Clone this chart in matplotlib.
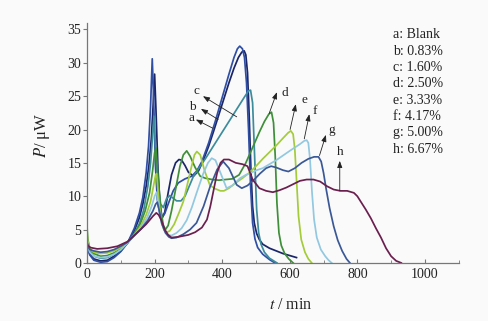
import matplotlib
matplotlib.use("Agg")
import matplotlib.pyplot as plt
from matplotlib.ticker import MultipleLocator

plt.rcParams['font.family'] = ['Liberation Serif', 'DejaVu Serif']
plt.rcParams['mathtext.fontset'] = 'stix'

# ---- data ----
t_a = [0, 2, 8, 20, 40, 60, 80, 100, 120, 140, 155, 165, 175, 183, 190, 196, 200, 204, 210, 216, 222, 230, 240, 250, 262, 272, 280, 290, 300, 315, 330, 345, 360, 375, 390, 405, 420, 435, 448, 458, 465, 470, 475, 480, 485, 490, 495, 502, 510, 520, 540, 560, 580, 600, 620]
p_a = [3.0, 2.2, 1.3, 0.6, 0.3, 0.4, 1.0, 1.8, 3.0, 4.8, 6.8, 8.8, 11.5, 14.5, 18.5, 24.0, 28.3, 23.0, 14.0, 8.8, 6.7, 7.6, 10.5, 13.2, 15.0, 15.5, 15.4, 14.6, 13.6, 13.0, 13.8, 15.5, 17.5, 19.8, 22.2, 24.6, 27.0, 29.2, 30.8, 31.6, 31.8, 31.2, 28.5, 22.0, 14.0, 8.5, 6.0, 4.4, 3.5, 2.8, 2.2, 1.8, 1.4, 1.1, 0.8]

t_b = [0, 2, 8, 20, 40, 60, 80, 100, 120, 140, 155, 165, 175, 182, 188, 193, 197, 202, 208, 215, 222, 230, 240, 255, 270, 290, 310, 325, 340, 360, 380, 400, 420, 435, 445, 452, 460, 466, 472, 478, 484, 490, 497, 505, 520, 540, 556]
p_b = [3.4, 2.4, 1.2, 0.4, 0.1, 0.2, 0.8, 1.7, 3.0, 5.2, 7.5, 9.8, 13.5, 17.5, 23.5, 30.6, 25.0, 15.0, 9.5, 7.5, 6.8, 7.4, 8.8, 10.8, 12.0, 12.6, 13.0, 13.8, 15.2, 18.0, 21.3, 24.8, 28.3, 30.8, 32.1, 32.5, 32.1, 30.8, 27.0, 20.0, 11.5, 6.0, 3.6, 2.3, 1.3, 0.5, 0.0]

t_c = [0, 2, 8, 20, 40, 60, 80, 100, 120, 140, 155, 168, 180, 188, 194, 198, 203, 210, 218, 226, 235, 245, 255, 265, 278, 290, 300, 315, 334, 350, 370, 395, 420, 445, 465, 478, 484, 490, 496, 502, 508, 515, 525, 540, 562]
p_c = [4.2, 3.0, 1.8, 1.0, 0.7, 0.8, 1.3, 2.0, 3.0, 4.4, 5.9, 8.0, 11.5, 15.0, 19.0, 22.0, 17.0, 11.5, 8.8, 8.3, 9.6, 10.1, 9.7, 9.3, 9.3, 10.0, 11.2, 13.0, 14.4, 15.6, 17.2, 19.2, 21.2, 23.2, 24.8, 25.8, 25.9, 24.0, 16.0, 8.0, 4.5, 2.8, 1.6, 0.7, 0.0]

t_d = [0, 2, 8, 20, 40, 60, 80, 100, 120, 140, 158, 172, 185, 194, 200, 204, 210, 218, 226, 232, 240, 250, 262, 275, 285, 295, 305, 320, 335, 350, 370, 390, 410, 430, 450, 470, 490, 510, 525, 538, 546, 552, 557, 562, 568, 575, 585, 597, 610]
p_d = [5.5, 3.6, 2.2, 1.4, 1.0, 1.1, 1.5, 2.1, 3.0, 4.3, 5.9, 7.8, 10.5, 13.8, 16.5, 17.3, 13.0, 8.0, 5.6, 5.0, 5.6, 7.8, 11.0, 14.5, 16.2, 16.8, 16.0, 14.3, 13.0, 12.7, 12.5, 12.4, 12.5, 12.6, 13.2, 15.0, 17.3, 19.6, 21.2, 22.3, 22.6, 21.0, 16.0, 9.0, 4.5, 2.6, 1.4, 0.6, 0.0]

t_e = [0, 2, 8, 20, 40, 60, 80, 100, 120, 140, 160, 175, 188, 197, 203, 206, 212, 220, 228, 236, 245, 258, 272, 285, 297, 309, 318, 325, 335, 348, 364, 380, 395, 405, 420, 440, 460, 480, 500, 520, 540, 560, 580, 595, 603, 610, 615, 620, 626, 634, 645, 655, 665]
p_e = [4.8, 3.3, 2.1, 1.6, 1.4, 1.5, 1.8, 2.3, 3.0, 4.2, 5.6, 7.2, 9.2, 11.6, 13.2, 13.4, 9.5, 6.2, 4.9, 4.6, 4.8, 5.8, 7.5, 9.2, 11.8, 14.4, 16.2, 16.7, 16.2, 13.8, 11.6, 11.1, 10.8, 10.8, 11.2, 12.0, 12.7, 13.5, 14.5, 15.6, 16.6, 17.6, 18.7, 19.5, 19.8, 19.3, 17.0, 12.5, 7.0, 3.5, 1.6, 0.6, 0.0]

t_f = [0, 2, 8, 20, 40, 60, 80, 100, 120, 140, 160, 178, 192, 200, 206, 212, 220, 230, 240, 250, 265, 280, 295, 310, 325, 344, 358, 369, 380, 395, 413, 430, 453, 470, 485, 502, 520, 540, 560, 580, 600, 615, 630, 643, 650, 655, 660, 666, 672, 680, 692, 705, 715, 724]
p_f = [3.8, 2.6, 1.6, 1.0, 0.8, 0.9, 1.3, 2.0, 3.0, 4.1, 5.3, 6.8, 8.6, 10.0, 10.6, 8.5, 6.0, 4.8, 4.2, 4.1, 4.5, 5.2, 6.4, 8.3, 10.6, 13.4, 15.0, 15.7, 15.4, 13.5, 11.2, 11.6, 12.7, 13.2, 13.5, 13.9, 14.2, 14.8, 15.4, 16.1, 16.8, 17.3, 17.8, 18.3, 18.4, 18.0, 15.5, 10.5, 6.5, 3.8, 2.0, 1.0, 0.4, 0.0]

t_g = [0, 2, 8, 20, 40, 60, 80, 100, 120, 140, 160, 180, 195, 203, 208, 214, 222, 232, 242, 250, 265, 285, 305, 324, 345, 364, 385, 403, 420, 443, 458, 475, 495, 512, 530, 545, 560, 580, 596, 615, 635, 655, 672, 685, 693, 700, 708, 718, 730, 742, 755, 768, 778]
p_g = [3.2, 2.5, 2.0, 1.8, 1.6, 1.7, 2.0, 2.5, 3.1, 4.1, 5.1, 6.4, 7.8, 8.8, 9.1, 7.8, 5.8, 4.5, 3.9, 3.7, 3.8, 4.3, 5.0, 6.0, 8.5, 11.4, 14.0, 15.2, 14.2, 11.7, 11.2, 11.6, 12.5, 13.4, 14.2, 14.5, 14.3, 13.9, 13.7, 14.2, 15.0, 15.6, 15.9, 15.9, 15.2, 13.5, 11.0, 8.2, 5.5, 3.4, 1.8, 0.6, 0.0]

t_h = [0, 3, 10, 30, 60, 90, 120, 150, 175, 195, 205, 212, 220, 230, 240, 250, 270, 300, 320, 340, 355, 365, 375, 385, 395, 405, 420, 440, 460, 475, 490, 510, 530, 550, 570, 590, 610, 630, 650, 670, 690, 710, 730, 750, 770, 790, 800, 810, 825, 840, 855, 870, 885, 900, 915, 930]
p_h = [3.0, 2.6, 2.3, 2.1, 2.2, 2.5, 3.2, 4.6, 5.8, 7.0, 7.5, 7.2, 6.4, 5.0, 4.2, 3.8, 3.9, 4.2, 4.6, 5.3, 6.5, 8.5, 11.0, 13.5, 15.0, 15.5, 15.5, 15.0, 14.8, 14.5, 12.5, 11.2, 10.8, 10.6, 10.9, 11.3, 11.8, 12.3, 12.5, 12.5, 12.2, 11.5, 11.0, 10.8, 10.8, 10.5, 10.0, 9.2, 8.0, 6.7, 5.2, 3.8, 2.2, 1.0, 0.3, 0.0]

series_t = [t_a, t_b, t_c, t_d, t_e, t_f, t_g, t_h]
series_p = [p_a, p_b, p_c, p_d, p_e, p_f, p_g, p_h]
colors = ['#1b2668', '#2f4fa5', '#3d8c9c', '#3f8f3a', '#a4cc3a', '#92c8e0', '#3b5896', '#6a1f4e']
legend_lines = ['a: Blank', 'b: 0.83%', 'c: 1.60%', 'd: 2.50%', 'e: 3.33%', 'f: 4.17%', 'g: 5.00%', 'h: 6.67%']

# curve labels: (letter, text position, arrow head, arrow tail)
callouts = [
    ('a', (308, 21.7), (322, 21.5), (372, 20.2)),
    ('b', (312, 23.3), (337, 23.1), (388, 21.5)),
    ('c', (324, 25.7), (343, 25.0), (443, 21.9)),
    ('d', (584, 25.4), (562, 25.6), (539, 22.4)),
    ('e', (642, 24.4), (618, 23.8), (601, 20.0)),
    ('f', (674, 22.8), (658, 22.3), (643, 18.6)),
    ('g', (724, 19.9), (707, 19.2), (688, 16.1)),
    ('h', (748, 16.7), (748, 15.3), (748, 10.8)),
]

fig = plt.figure(figsize=(4.89, 3.21), dpi=100, facecolor='#fafafa')
ax = fig.add_axes([0.178, 0.181, 0.760, 0.748])
ax.set_facecolor('#fafafa')

for tt, pp, c in zip(series_t, series_p, colors):
    ax.plot(tt, pp, color=c, lw=1.25, solid_joinstyle='round')

for lab, txy, head, tail in callouts:
    ax.annotate('', xy=head, xytext=tail,
                arrowprops=dict(arrowstyle='-|>,head_length=0.4,head_width=0.15',
                                color='#222222', lw=0.6, shrinkA=0, shrinkB=0))
    ax.text(txy[0], txy[1], lab, fontsize=9.5, ha='center', va='center', color='#222222')

ax.set_xlim(0, 1100)
ax.set_ylim(0, 36)
ax.set_xticks([0, 200, 400, 600, 800, 1000])
ax.xaxis.set_minor_locator(MultipleLocator(100))
ax.set_yticks([0, 5, 10, 15, 20, 25, 30, 35])
for s in ['top', 'right']:
    ax.spines[s].set_visible(False)
for s in ['left', 'bottom']:
    ax.spines[s].set_color('#777777')
    ax.spines[s].set_linewidth(0.9)
ax.tick_params(axis='x', which='both', direction='in', colors='#777777', labelcolor='#222222',
               labelsize=10, pad=4)
ax.tick_params(axis='x', which='major', length=3)
ax.tick_params(axis='x', which='minor', length=2.5)
ax.tick_params(axis='y', which='major', direction='out', length=3, colors='#777777',
               labelcolor='#222222', labelsize=10, pad=1)

ax.set_xlabel('$t$ / min', fontsize=11.5, color='#222222')
ax.set_ylabel('$P$/ μW', fontsize=12, color='#222222')
ax.xaxis.set_label_coords(0.549, -0.142)
ax.yaxis.set_label_coords(-0.094, 0.533)

for i, line in enumerate(legend_lines):
    fig.text(393 / 489, 1 - (35 + 16.3 * i) / 321, line, fontsize=10,
             ha='left', va='center', color='#222222')

fig.savefig('out.png', dpi=100, facecolor=fig.get_facecolor())
